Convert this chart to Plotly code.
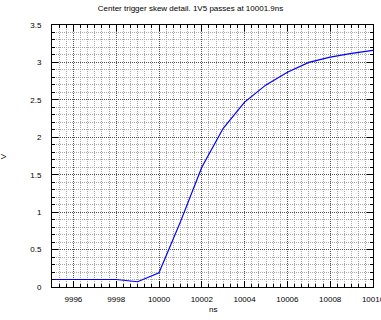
import plotly.graph_objects as go

time_ns = [9995, 9996, 9997, 9998, 9999, 10000, 10001, 10002, 10003,
           10004, 10005, 10006, 10007, 10008, 10009, 10010]
volts = [0.1, 0.1, 0.1, 0.1, 0.07, 0.19, 0.87, 1.6, 2.12,
         2.47, 2.7, 2.87, 3.0, 3.07, 3.12, 3.16]

title_text = "Center trigger skew detail. 1V5 passes at 10001.9ns"
x_title = "ns"
y_title = "V"
font_family = "Liberation Sans, Arial, sans-serif"

fig = go.Figure()
fig.add_trace(go.Scatter(x=time_ns, y=volts, mode="lines",
                         line=dict(color="#0000ff", width=1.2),
                         showlegend=False))

axis_common = dict(
    showline=True, linecolor="black", linewidth=1, mirror="allticks",
    ticks="inside", ticklen=6, tickcolor="black", tickwidth=1,
    showgrid=True, gridcolor="#505050", griddash="1px,1px", gridwidth=1,
    zeroline=False, tickfont=dict(size=8, color="black", family=font_family),
    automargin=False, ticklabeloverflow="allow",
)

minor_common = dict(showgrid=True, ticks="inside", ticklen=3, tickcolor="black",
                    gridcolor="#a8a8a8", griddash="1px,1px", gridwidth=1)

fig.update_layout(
    width=381, height=320,
    margin=dict(l=52, r=8, t=25, b=33),
    paper_bgcolor="white", plot_bgcolor="white",
    font=dict(family=font_family, size=8, color="black"),
    title=dict(text=title_text, x=0.5, xanchor="center", y=0.975, yanchor="middle",
               font=dict(size=8, family=font_family)),
    xaxis=dict(range=[9995, 10010], dtick=2, tick0=9996, tickformat="d",
               ticklabelstandoff=4,
               minor=dict(dtick=1/3, tick0=9996, **minor_common),
               **axis_common),
    yaxis=dict(range=[0, 3.5], dtick=0.5, tick0=0,
               ticklabelstandoff=8,
               minor=dict(dtick=0.1, tick0=0, **minor_common),
               **axis_common),
    annotations=[
        dict(text=x_title, xref="paper", yref="paper", x=0.5, y=-0.084,
             xanchor="center", yanchor="middle", showarrow=False,
             font=dict(size=8)),
        dict(text=y_title, xref="paper", yref="paper", x=-0.152, y=0.5,
             xanchor="center", yanchor="middle", showarrow=False, textangle=-90,
             font=dict(size=8)),
    ],
)

fig.write_html("out.html", config={"displayModeBar": False},
               post_script="document.body.style.margin='0';")
